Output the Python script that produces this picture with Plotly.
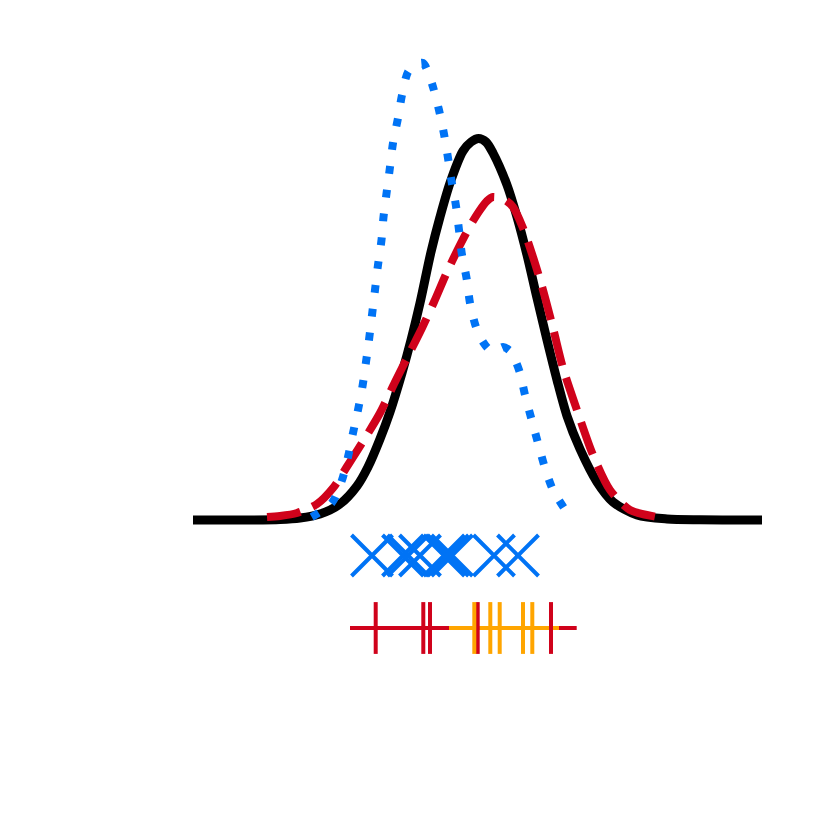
import plotly.graph_objects as go

# density curves (x, density)
black_x = [-2.22, -1.65, -1.35, -1.15, -0.95, -0.75, -0.58, -0.47, -0.35, -0.25,
           -0.13, -0.04, 0.05, 0.16, 0.25, 0.35, 0.48, 0.56, 0.635, 0.71, 0.78,
           0.92, 1.02, 1.12, 1.22, 1.32, 1.42, 1.52, 1.65, 1.82, 1.98, 2.22,
           2.52, 2.85, 3.47]
black_y = [0.0, 0.0, 0.0005, 0.002, 0.006, 0.016, 0.034, 0.053, 0.081, 0.108,
           0.147, 0.18, 0.217, 0.268, 0.303, 0.337, 0.369, 0.378, 0.3815, 0.378,
           0.367, 0.335, 0.303, 0.265, 0.222, 0.18, 0.14, 0.104, 0.071, 0.038,
           0.018, 0.005, 0.001, 0.0002, 0.0]

red_x = [-1.48, -1.35, -1.18, -0.98, -0.82, -0.67, -0.53, -0.35, -0.2, -0.05,
         0.07, 0.19, 0.32, 0.45, 0.55, 0.65, 0.72, 0.78, 0.9, 0.98, 1.08, 1.18,
         1.28, 1.38, 1.48, 1.63, 1.78, 1.95, 2.15, 2.42, 2.47]
red_y = [0.003, 0.004, 0.007, 0.016, 0.032, 0.055, 0.077, 0.107, 0.138, 0.168,
         0.192, 0.218, 0.248, 0.275, 0.294, 0.31, 0.319, 0.323, 0.32, 0.313,
         0.292, 0.263, 0.23, 0.192, 0.152, 0.107, 0.065, 0.03, 0.01, 0.003, 0.002]

blue_x = [-1.033, -0.833, -0.73, -0.67, -0.62, -0.57, -0.523, -0.49, -0.46,
          -0.43, -0.4, -0.37, -0.335, -0.315, -0.283, -0.25, -0.22, -0.17, -0.13,
          -0.07, 0.0, 0.08, 0.13, 0.18, 0.24, 0.29, 0.33, 0.367, 0.41, 0.44,
          0.467, 0.517, 0.55, 0.61, 0.68, 0.75, 0.82, 0.88, 0.95, 1.01, 1.05,
          1.1, 1.167, 1.23, 1.3, 1.38, 1.517]
blue_y = [0.003, 0.017, 0.04, 0.063, 0.087, 0.11, 0.135, 0.158, 0.18, 0.205,
          0.23, 0.255, 0.28, 0.303, 0.328, 0.353, 0.377, 0.402, 0.425, 0.448,
          0.455, 0.457, 0.448, 0.433, 0.41, 0.386, 0.362, 0.338, 0.314, 0.29,
          0.267, 0.241, 0.217, 0.193, 0.178, 0.17, 0.17, 0.173, 0.169, 0.158,
          0.147, 0.125, 0.1, 0.077, 0.052, 0.03, 0.008]

# sample points (blue X marks) and two rug groups
blue_pts = [-0.43, -0.12, -0.07, 0.05, 0.29, 0.33, 0.37, 0.79, 1.03]
red_ticks = [-0.393, 0.083, 0.15, 0.627, 1.36]
orange_ticks = [0.593, 0.753, 0.847, 1.08, 1.173]
red_span = [-0.65, 1.617]
orange_span = [0.34, 1.44]

BLUE = '#0073F5'
RED = '#D0021B'
ORANGE = '#FFA500'
row_x = -0.0355
row_rug = -0.108

fig = go.Figure()
fig.add_trace(go.Scatter(x=black_x, y=black_y, mode='lines',
                         line=dict(color='black', width=9, shape='spline', smoothing=0.8)))
fig.add_trace(go.Scatter(x=red_x, y=red_y, mode='lines',
                         line=dict(color=RED, width=8, dash='34px,13px', shape='spline', smoothing=0.8)))
fig.add_trace(go.Scatter(x=blue_x, y=blue_y, mode='lines',
                         line=dict(color=BLUE, width=8, dash='8px,16px', shape='spline', smoothing=0.8)))

fig.add_trace(go.Scatter(x=blue_pts, y=[row_x] * len(blue_pts), mode='markers',
                         marker=dict(symbol='x-thin', size=41, line=dict(color=BLUE, width=4))))

fig.add_trace(go.Scatter(x=red_span, y=[row_rug] * 2, mode='lines',
                         line=dict(color=RED, width=4)))
fig.add_trace(go.Scatter(x=orange_span, y=[row_rug] * 2, mode='lines',
                         line=dict(color=ORANGE, width=4)))
fig.add_trace(go.Scatter(x=red_ticks, y=[row_rug] * len(red_ticks), mode='markers',
                         marker=dict(symbol='line-ns', size=37, line=dict(color=RED, width=4))))
fig.add_trace(go.Scatter(x=orange_ticks, y=[row_rug] * len(orange_ticks), mode='markers',
                         marker=dict(symbol='line-ns', size=37, line=dict(color=ORANGE, width=4))))

fig.update_layout(
    width=830, height=830,
    margin=dict(l=0, r=0, t=0, b=0),
    paper_bgcolor='white', plot_bgcolor='white',
    showlegend=False,
    xaxis=dict(range=[-4.07, 4.23], visible=False),
    yaxis=dict(range=[-0.318, 0.512], visible=False),
)

fig.write_html("out.html")
